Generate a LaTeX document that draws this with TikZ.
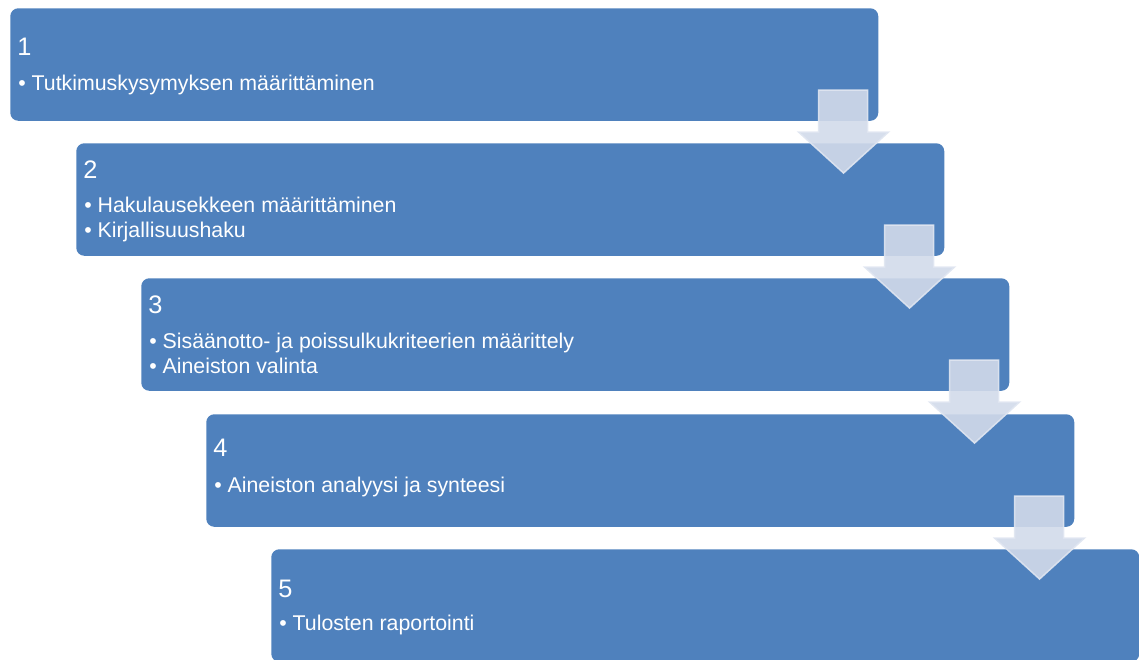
\documentclass[tikz,border=0pt]{standalone}
\usepackage{fontspec}
\setmainfont{Liberation Sans}
\usetikzlibrary{calc}
\definecolor{boxblue}{RGB}{79,129,189}
\definecolor{arrowfill}{RGB}{210,218,234}
\definecolor{arrowline}{RGB}{224,230,241}
\begin{document}
\begin{tikzpicture}[x=0.75pt,y=-0.75pt,
  stagebox/.style={rectangle, fill=boxblue, rounded corners=6pt, minimum width=651pt, minimum height=84.4pt, inner sep=0pt, anchor=north west},
  numtext/.style={text=white, font=\fontsize{19}{22}\selectfont, anchor=base west, inner sep=0pt},
  itemtext/.style={text=white, font=\fontsize{16}{19}\selectfont, anchor=base west, inner sep=0pt},
  downarrow/.style={fill=arrowfill, draw=arrowline, line width=1.1pt, opacity=0.9, line join=miter}]
\useasboundingbox (0,0) rectangle (1139,660);
% stages
\node[stagebox] (b1) at (10,8) {};
\node[stagebox] (b2) at (76,143) {};
\node[stagebox] (b3) at (141,278) {};
\node[stagebox] (b4) at (206,414) {};
\node[stagebox] (b5) at (271,549) {};
% texts
\node[numtext] (n1) at ($(b1.north west)+(7,48)$) {1};
\node[itemtext] (t1a) at ($(b1.north west)+(8,82)$) {• Tutkimuskysymyksen määrittäminen};
\node[numtext] (n2) at ($(b2.north west)+(7,35)$) {2};
\node[itemtext] (t2a) at ($(b2.north west)+(8,69)$) {• Hakulausekkeen määrittäminen};
\node[itemtext] (t2b) at ($(b2.north west)+(8,94)$) {• Kirjallisuushaku};
\node[numtext] (n3) at ($(b3.north west)+(7,35)$) {3};
\node[itemtext] (t3a) at ($(b3.north west)+(8,70)$) {• Sisäänotto- ja poissulkukriteerien määrittely};
\node[itemtext] (t3b) at ($(b3.north west)+(8,95)$) {• Aineiston valinta};
\node[numtext] (n4) at ($(b4.north west)+(7,42)$) {4};
\node[itemtext] (t4a) at ($(b4.north west)+(8,78)$) {• Aineiston analyysi ja synteesi};
\node[numtext] (n5) at ($(b5.north west)+(7,48)$) {5};
\node[itemtext] (t5a) at ($(b5.north west)+(8,81)$) {• Tulosten raportointi};
% arrows
\foreach \b in {b1,b2,b3,b4}{
  \path[downarrow] ($(\b.south east)+(-60,-31)$) -- ($(\b.south east)+(-11,-31)$)
    -- ($(\b.south east)+(-11,11)$) -- ($(\b.south east)+(10,11)$)
    -- ($(\b.south east)+(-35,52)$) -- ($(\b.south east)+(-80,11)$)
    -- ($(\b.south east)+(-60,11)$) -- cycle;
}
\end{tikzpicture}
\end{document}
